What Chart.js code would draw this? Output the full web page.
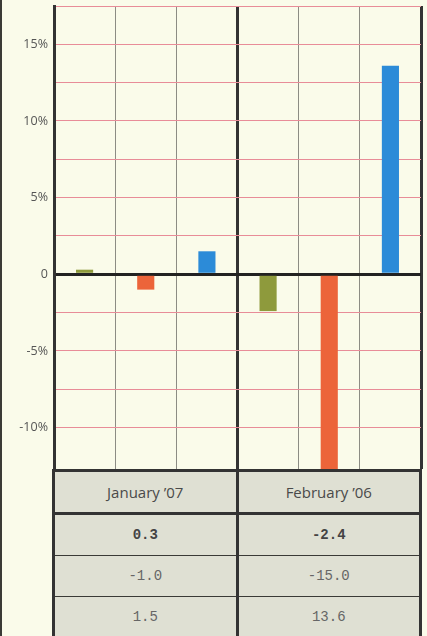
<!DOCTYPE html>
<html>
<head>
<meta charset="utf-8">
<script src="https://cdn.jsdelivr.net/npm/chart.js@4/dist/chart.umd.min.js"></script>
<style>
  html, body { margin: 0; padding: 0; background: #fafbea; }
  body { width: 427px; height: 636px; position: relative; overflow: hidden; }
  #edge { position: absolute; left: 0; top: 0; width: 2px; height: 636px; background: #3a3a36; }
  #wrap { position: absolute; left: 0; top: 0; width: 427px; height: 470px; }
  table { position: absolute; left: 52px; top: 469px; width: 370px; height: 167px;
          border-collapse: collapse; background: #dfe0d3; table-layout: fixed; }
  td { border: 1.5px solid #3a3a36; text-align: center; color: #666; padding: 0; }
  td.l { border-left: 3px solid #333; }
  td.r { border-right: 3px solid #333; }
  td.m { border-right: 3px solid #333; }
  tr.h td { font-family: "Open Sans", sans-serif; font-size: 15px; color: #4a4a4a; border-top: 3px solid #333; border-bottom: 3px solid #333; height: 40px; }
  tr.v td { font-family: "Liberation Mono", monospace; font-size: 14px; height: 40px; }
  tr.b td { font-weight: bold; color: #444; }
</style>
</head>
<body>
<div id="edge"></div>
<div id="wrap"><canvas id="c"></canvas></div>
<table id="tbl"></table>
<script>
const CATEGORIES = ["January ’07", "February ’06"];
const SERIES_1 = [0.3, -2.4];
const SERIES_2 = [-1.0, -15.0];
const SERIES_3 = [1.5, 13.6];
const Y_TICKS = [-10, -7.5, -5, -2.5, 0, 2.5, 5, 7.5, 10, 12.5, 15, 17.5];
const Y_LABELED = [-10, -5, 0, 5, 10, 15];
const SUB_COLUMNS = ['', '', '', '', '', '', ''];
const COLORS = ["#8e9a3c", "#ec643a", "#2c8bd8"];

// table built from the same arrays
const tbl = document.getElementById('tbl');
let html = '<tr class="h"><td class="l m">' + CATEGORIES[0] + '</td><td class="r">' + CATEGORIES[1] + '</td></tr>';
[SERIES_1, SERIES_2, SERIES_3].forEach((s, i) => {
  html += '<tr class="v' + (i === 0 ? ' b' : '') + '"><td class="l m">' + s[0].toFixed(1) + '</td><td class="r">' + s[1].toFixed(1) + '</td></tr>';
});
tbl.innerHTML = html;

const ds = (data, color) => ({
  data, backgroundColor: color, borderWidth: 0,
  barPercentage: 0.28, categoryPercentage: 1.0
});

new Chart(document.getElementById('c'), {
  type: 'bar',
  data: {
    labels: CATEGORIES,
    datasets: [ds(SERIES_1, COLORS[0]), ds(SERIES_2, COLORS[1]), ds(SERIES_3, COLORS[2])]
  },
  options: {
    responsive: true,
    maintainAspectRatio: false,
    animation: false,
    layout: { padding: { left: 0, right: 6, top: 6, bottom: 1 } },
    plugins: { legend: { display: false }, tooltip: { enabled: false } },
    scales: {
      x: {
        grid: { offset: true, color: '#333', lineWidth: 3, drawTicks: false },
        border: { display: false },
        ticks: { display: false },
        afterFit: s => { s.height = 0; s.paddingLeft = 0; s.paddingRight = 0; }
      },
      x2: {
        type: 'category', labels: SUB_COLUMNS, position: 'bottom', offset: false,
        grid: { offset: false, color: ctx => (ctx.index % 3 === 0) ? 'rgba(0,0,0,0)' : '#8c8c84', lineWidth: 1, drawTicks: false },
        border: { display: false },
        ticks: { display: false },
        afterFit: s => { s.height = 0; s.paddingLeft = 0; s.paddingRight = 0; }
      },
      y: {
        min: -12.7, max: 17.5,
        afterBuildTicks: s => { s.ticks = Y_TICKS.map(v => ({ value: v })); },
        afterFit: s => { s.width = 54; s.paddingTop = 0; s.paddingBottom = 0; },
        grid: {
          color: ctx => (ctx.tick && ctx.tick.value === 0) ? '#222' : '#e88c98',
          lineWidth: ctx => (ctx.tick && ctx.tick.value === 0) ? 3 : 1,
          drawTicks: false
        },
        border: { display: true, color: '#333', width: 3 },
        ticks: {
          padding: 6,
          color: '#555',
          font: { family: 'Open Sans', size: 12.5 },
          callback: v => Y_LABELED.includes(v) ? (v === 0 ? '0' : v + '%') : ''
        }
      }
    }
  }
});
</script>
</body>
</html>
